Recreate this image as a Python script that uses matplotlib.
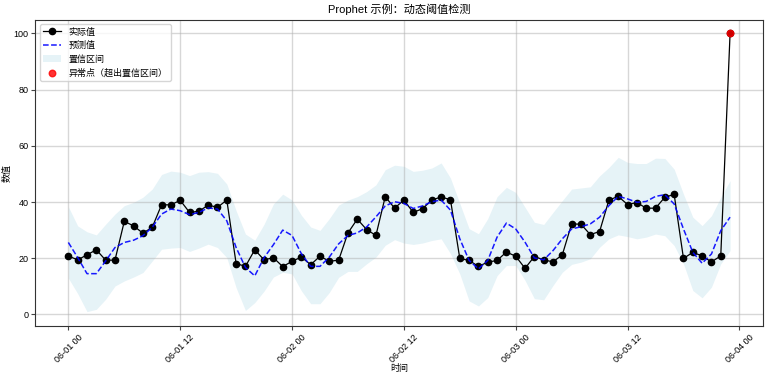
import matplotlib
matplotlib.use("Agg")
import matplotlib.pyplot as plt
import matplotlib.dates as mdates
import pandas as pd

plt.rcParams['font.family'] = ['Liberation Sans', 'Noto Sans CJK SC', 'DejaVu Sans']
plt.rcParams['axes.unicode_minus'] = False

times = pd.date_range("2024-06-01 00:00", periods=72, freq="h")

actual = [20.8, 19.4, 21.2, 23.0, 19.3, 19.3, 33.1, 31.5, 28.9, 31.0, 39.0, 39.0,
          40.6, 36.3, 36.7, 38.9, 38.1, 40.7, 18.1, 17.1, 23.0, 19.4, 20.2, 17.0,
          18.9, 20.4, 17.7, 20.7, 18.9, 19.3, 29.0, 33.9, 30.2, 28.1, 41.9, 37.8,
          40.7, 36.3, 37.6, 40.7, 41.8, 40.8, 19.9, 19.2, 17.1, 18.6, 19.2, 22.2,
          20.7, 16.4, 20.6, 19.4, 18.7, 21.2, 32.2, 32.1, 28.4, 29.5, 40.7, 42.0,
          39.1, 39.8, 37.8, 37.8, 41.7, 42.7, 19.9, 22.1, 20.8, 18.7, 20.8, 100.0]

predicted = [25.6, 20.2, 14.5, 14.5, 19.0, 23.8, 25.6, 26.4, 28.0, 31.0, 35.7, 37.5,
             36.9, 35.5, 36.3, 37.9, 37.5, 33.3, 23.8, 16.7, 13.7, 20.2, 24.8, 30.0,
             28.1, 21.6, 17.1, 17.1, 20.4, 25.1, 28.1, 29.0, 31.1, 34.7, 38.6, 40.1,
             39.5, 37.7, 38.6, 40.1, 40.7, 37.1, 26.9, 19.2, 16.2, 19.2, 27.5, 32.5,
             30.4, 25.7, 20.1, 19.4, 22.7, 26.9, 30.4, 31.2, 32.2, 34.6, 38.7, 42.0,
             41.1, 39.9, 40.2, 42.0, 42.6, 39.3, 30.4, 22.1, 18.2, 21.5, 29.8, 34.6]

upper = [38.3, 31.5, 29.4, 28.3, 32.1, 35.7, 38.7, 39.9, 41.7, 44.6, 49.8, 51.0,
         50.6, 49.4, 50.6, 50.8, 50.2, 46.4, 36.9, 28.6, 26.4, 32.1, 39.3, 42.8,
         40.7, 35.3, 31.1, 29.9, 34.1, 38.9, 40.7, 41.9, 43.7, 46.1, 51.5, 53.1,
         52.7, 50.9, 51.3, 52.1, 53.9, 48.5, 39.5, 30.5, 28.7, 34.1, 41.9, 45.2,
         43.4, 38.1, 32.8, 32.0, 36.3, 40.5, 44.6, 45.0, 45.4, 49.3, 52.3, 55.9,
         54.1, 53.7, 53.7, 55.6, 55.5, 51.7, 42.8, 34.6, 31.6, 35.1, 41.7, 47.6]

lower = [12.9, 7.4, 1.0, 1.8, 5.4, 10.1, 11.9, 13.3, 14.9, 19.0, 23.2, 23.6,
         23.8, 22.4, 23.6, 25.0, 23.8, 20.2, 9.5, 1.4, 4.2, 8.3, 13.3, 15.0,
         14.4, 8.4, 3.8, 3.8, 7.8, 13.2, 15.3, 15.3, 18.0, 20.4, 24.6, 26.6,
         25.4, 24.9, 25.4, 26.3, 26.9, 21.6, 14.4, 4.8, 3.0, 6.0, 13.8, 17.4,
         17.4, 12.1, 5.6, 5.2, 10.3, 15.0, 17.8, 18.6, 19.8, 23.9, 26.9, 28.3,
         27.7, 26.9, 27.5, 28.6, 28.0, 24.5, 18.0, 8.5, 5.9, 9.7, 18.0, 22.7]

# points outside the band
anom_t = [t for t, a, lo, hi in zip(times, actual, lower, upper) if a > hi + 20]
anom_v = [a for a, lo, hi in zip(actual, lower, upper) if a > hi + 20]

fig, ax = plt.subplots(figsize=(7.67, 3.75), dpi=100)
fig.subplots_adjust(left=0.046, right=0.995, top=0.948, bottom=0.132)

ax.plot(times, actual, 'k-', marker='o', markersize=4.5, linewidth=0.9, label='实际值')
ax.plot(times, predicted, 'b--', linewidth=1.1, alpha=0.9, label='预测值')
ax.fill_between(times, lower, upper, color='lightblue', alpha=0.3, linewidth=0, label='置信区间')
ax.scatter(anom_t, anom_v, color='red', s=22, zorder=5, alpha=0.8, label='异常点（超出置信区间）')

ax.set_title('Prophet 示例：动态阈值检测', fontsize=8, pad=5)
ax.set_xlabel('时间', fontsize=6.5, labelpad=0)
ax.set_ylabel('数值', fontsize=6.5, labelpad=1)
ax.xaxis.set_major_locator(mdates.HourLocator(byhour=[0, 12]))
ax.xaxis.set_major_formatter(mdates.DateFormatter('%m-%d %H'))
ax.tick_params(labelsize=6.5, length=3, pad=2, color='#444444')
plt.setp(ax.get_xticklabels(), rotation=45)
ax.grid(True, color='#b0b0b0', alpha=0.5, linewidth=1)
for s in ax.spines.values():
    s.set_color('#333333')
ax.legend(loc='upper left', fontsize=6.5, framealpha=0.8)

fig.savefig('out.png', dpi=100)
